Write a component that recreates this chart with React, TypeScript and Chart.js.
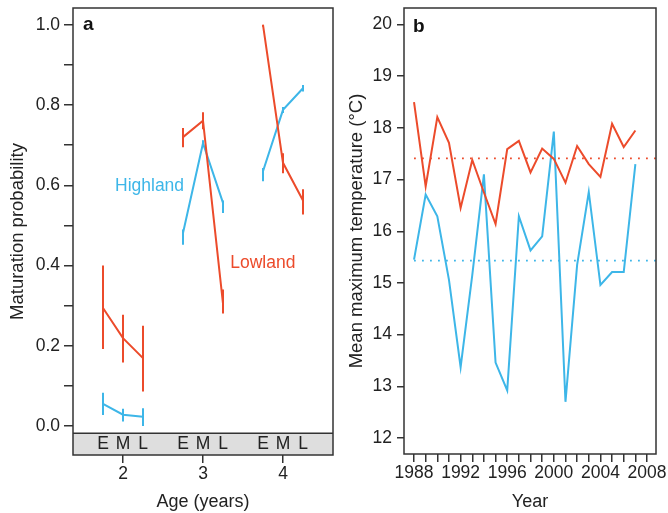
import React, { useEffect, useRef } from 'react';
import { Chart, registerables } from 'chart.js';
Chart.register(...registerables);

// ---------- Panel a data ----------
const ages = [2, 3, 4];
const groupLabels = ['E', 'M', 'L'];
const groupOffsets = [-0.25, 0, 0.25];

const lowlandMean = [[0.294, 0.219, 0.169], [0.72, 0.761, 0.305], [1.0, 0.656, 0.562]];
const lowlandLow = [[0.192, 0.158, 0.086], [0.695, 0.74, 0.28], [0.995, 0.63, 0.527]];
const lowlandHigh = [[0.4, 0.277, 0.25], [0.743, 0.782, 0.34], [1.0, 0.68, 0.59]];

const highlandMean = [[0.055, 0.028, 0.023], [0.481, 0.705, 0.556], [0.635, 0.788, 0.842]];
const highlandLow = [[0.0275, 0.011, 0.0], [0.452, 0.697, 0.531], [0.61, 0.78, 0.834]];
const highlandHigh = [[0.083, 0.043, 0.044], [0.49, 0.712, 0.562], [0.643, 0.795, 0.85]];

const probTicks = [0, 0.1, 0.2, 0.3, 0.4, 0.5, 0.6, 0.7, 0.8, 0.9, 1.0];
const probTickLabels = ['0.0', '', '0.2', '', '0.4', '', '0.6', '', '0.8', '', '1.0'];

// ---------- Panel b data ----------
const years = [1988, 1989, 1990, 1991, 1992, 1993, 1994, 1995, 1996, 1997, 1998, 1999, 2000, 2001, 2002, 2003, 2004, 2005, 2006, 2007];
const lowlandTemp = [18.5, 16.87, 18.21, 17.71, 16.45, 17.38, 16.75, 16.14, 17.59, 17.75, 17.14, 17.6, 17.4, 16.94, 17.65, 17.3, 17.05, 18.08, 17.63, 17.95];
const highlandTemp = [15.45, 16.71, 16.29, 15.06, 13.37, 15.15, 17.1, 13.46, 12.92, 16.29, 15.63, 15.9, 17.93, 12.7, 15.35, 16.76, 14.96, 15.21, 15.21, 17.3];
const lowlandMeanTemp = 17.41;
const highlandMeanTemp = 15.43;
const yearTicks = [1988, 1989, 1990, 1991, 1992, 1993, 1994, 1995, 1996, 1997, 1998, 1999, 2000, 2001, 2002, 2003, 2004, 2005, 2006, 2007, 2008];
const yearTickLabels = ['1988', '', '', '', '1992', '', '', '', '1996', '', '', '', '2000', '', '', '', '2004', '', '', '', '2008'];
const tempTicks = [12, 13, 14, 15, 16, 17, 18, 19, 20];

const RED = '#ec4b2b';
const BLUE = '#3db6e8';
const TEXT = '#222222';
const AXIS = '#333333';
const FONT = "'Liberation Sans', Arial, Helvetica, sans-serif";

Chart.defaults.font.family = FONT;
Chart.defaults.color = TEXT;

function groupedPoints(mean: number[][]) {
  const pts: { x: number; y: number | null }[] = [];
  ages.forEach((a, i) => {
    groupOffsets.forEach((o, j) => pts.push({ x: a + o, y: mean[i][j] }));
    pts.push({ x: a + 0.5, y: null });
  });
  return pts;
}

const framePlugin = {
  id: 'frame',
  afterDraw(chart: any) {
    const { ctx, chartArea: c } = chart;
    ctx.save();
    ctx.strokeStyle = AXIS;
    ctx.lineWidth = 1.5;
    ctx.strokeRect(c.left, c.top, c.right - c.left, c.bottom - c.top);
    ctx.restore();
  },
};

function letterPlugin(letter: string, dx: number, dy: number) {
  return {
    id: 'letter' + letter,
    afterDraw(chart: any) {
      const { ctx, chartArea: c } = chart;
      ctx.save();
      ctx.fillStyle = '#111';
      ctx.font = `bold 19px ${FONT}`;
      ctx.textAlign = 'left';
      ctx.textBaseline = 'middle';
      ctx.fillText(letter, c.left + dx, c.top + dy);
      ctx.restore();
    },
  };
}

const bandPlugin = {
  id: 'band',
  beforeDatasetsDraw(chart: any) {
    const { ctx, chartArea: c, scales } = chart;
    const yTop = scales.y.getPixelForValue(-0.018);
    ctx.save();
    ctx.fillStyle = '#dedede';
    ctx.fillRect(c.left, yTop, c.right - c.left, c.bottom - yTop);
    ctx.strokeStyle = AXIS;
    ctx.lineWidth = 1.5;
    ctx.beginPath();
    ctx.moveTo(c.left, yTop);
    ctx.lineTo(c.right, yTop);
    ctx.stroke();
    ctx.fillStyle = TEXT;
    ctx.font = `17.5px ${FONT}`;
    ctx.textAlign = 'center';
    ctx.textBaseline = 'middle';
    const yMid = (yTop + c.bottom) / 2 + 0.5;
    ages.forEach((a) => {
      groupOffsets.forEach((o, j) => {
        ctx.fillText(groupLabels[j], scales.x.getPixelForValue(a + o), yMid);
      });
    });
    ctx.restore();
  },
};

const errorPlugin = {
  id: 'errors',
  afterDatasetsDraw(chart: any) {
    const { ctx, scales } = chart;
    ctx.save();
    ctx.lineWidth = 2;
    const series: [number[][], number[][], string][] = [
      [highlandLow, highlandHigh, BLUE],
      [lowlandLow, lowlandHigh, RED],
    ];
    series.forEach(([lo, hi, col]) => {
      ctx.strokeStyle = col;
      ages.forEach((a, i) => {
        groupOffsets.forEach((o, j) => {
          const px = scales.x.getPixelForValue(a + o);
          ctx.beginPath();
          ctx.moveTo(px, scales.y.getPixelForValue(lo[i][j]));
          ctx.lineTo(px, scales.y.getPixelForValue(hi[i][j]));
          ctx.stroke();
        });
      });
    });
    // series labels
    ctx.font = `17.5px ${FONT}`;
    ctx.textAlign = 'left';
    ctx.textBaseline = 'middle';
    ctx.fillStyle = BLUE;
    ctx.fillText('Highland', scales.x.getPixelForValue(1.9), scales.y.getPixelForValue(0.5975));
    ctx.fillStyle = RED;
    ctx.fillText('Lowland', scales.x.getPixelForValue(3.34), scales.y.getPixelForValue(0.405));
    ctx.restore();
  },
};

function tickGrid(len: number) {
  return { display: true, drawOnChartArea: false, drawTicks: true, tickLength: len, color: AXIS, lineWidth: 1.5 };
}

function PanelA() {
  const ref = useRef<HTMLCanvasElement>(null);
  useEffect(() => {
    const chart = new Chart(ref.current!, {
      type: 'line',
      data: {
        datasets: [
          { data: groupedPoints(lowlandMean), borderColor: RED, borderWidth: 2, pointRadius: 0, spanGaps: false, order: 1 },
          { data: groupedPoints(highlandMean), borderColor: BLUE, borderWidth: 2, pointRadius: 0, spanGaps: false, order: 2 },
        ],
      },
      options: {
        animation: false,
        responsive: false,
        devicePixelRatio: 1,
        layout: { padding: { left: 0, top: 8, right: 7, bottom: 0 } },
        plugins: { legend: { display: false }, tooltip: { enabled: false } },
        scales: {
          x: {
            type: 'linear',
            min: 1.375,
            max: 4.625,
            afterBuildTicks: (s: any) => { s.ticks = ages.map((v) => ({ value: v })); },
            afterFit: (s: any) => { s.height = 58; s.paddingLeft = 0; s.paddingRight = 0; },
            ticks: { autoSkip: false, maxRotation: 0, padding: 1, color: TEXT, font: { size: 17.5 }, callback: (v: any) => String(v) },
            grid: tickGrid(8),
            border: { display: false },
            title: { display: true, text: 'Age (years)', color: TEXT, font: { size: 18 }, padding: { top: 0, bottom: 0 } },
          },
          y: {
            type: 'linear',
            min: -0.0725,
            max: 1.042,
            afterBuildTicks: (s: any) => { s.ticks = probTicks.map((v) => ({ value: v })); },
            afterFit: (s: any) => { s.width = 73; s.paddingTop = 0; s.paddingBottom = 0; },
            ticks: { autoSkip: false, padding: 4, color: TEXT, font: { size: 17.5 }, callback: (_v: any, i: number) => probTickLabels[i] },
            grid: tickGrid(9),
            border: { display: false },
            title: { display: true, text: 'Maturation probability', color: TEXT, font: { size: 18.5 }, padding: { top: 7, bottom: 0 } },
          },
        },
      },
      plugins: [bandPlugin, errorPlugin, framePlugin, letterPlugin('a', 10, 17)],
    } as any);
    return () => chart.destroy();
  }, []);
  return <canvas ref={ref} width={340} height={513} style={{ position: 'absolute', left: 0, top: 0 }} />;
}

function PanelB() {
  const ref = useRef<HTMLCanvasElement>(null);
  useEffect(() => {
    const xMax = 2008.77;
    const chart = new Chart(ref.current!, {
      type: 'line',
      data: {
        datasets: [
          { data: years.map((yr, i) => ({ x: yr, y: lowlandTemp[i] })), borderColor: RED, borderWidth: 2, pointRadius: 0, order: 1 },
          { data: years.map((yr, i) => ({ x: yr, y: highlandTemp[i] })), borderColor: BLUE, borderWidth: 2, pointRadius: 0, order: 2 },
          { data: [{ x: years[0], y: lowlandMeanTemp }, { x: xMax, y: lowlandMeanTemp }], borderColor: RED, borderWidth: 1.8, borderDash: [1.8, 6.2], pointRadius: 0, order: 3 },
          { data: [{ x: years[0], y: highlandMeanTemp }, { x: xMax, y: highlandMeanTemp }], borderColor: BLUE, borderWidth: 1.8, borderDash: [1.8, 6.2], pointRadius: 0, order: 3 },
        ],
      },
      options: {
        animation: false,
        responsive: false,
        devicePixelRatio: 1,
        layout: { padding: { left: 0, top: 8, right: 12, bottom: 0 } },
        plugins: { legend: { display: false }, tooltip: { enabled: false } },
        scales: {
          x: {
            type: 'linear',
            min: 1987.14,
            max: xMax,
            afterBuildTicks: (s: any) => { s.ticks = yearTicks.map((v) => ({ value: v })); },
            afterFit: (s: any) => { s.height = 59; s.paddingLeft = 0; s.paddingRight = 0; },
            ticks: { autoSkip: false, maxRotation: 0, padding: 1, color: TEXT, font: { size: 17.5 }, callback: (_v: any, i: number) => yearTickLabels[i] },
            grid: tickGrid(8),
            border: { display: false },
            title: { display: true, text: 'Year', color: TEXT, font: { size: 18 }, padding: { top: 0, bottom: 0 } },
          },
          y: {
            type: 'linear',
            min: 11.69,
            max: 20.32,
            afterBuildTicks: (s: any) => { s.ticks = tempTicks.map((v) => ({ value: v })); },
            afterFit: (s: any) => { s.width = 64; s.paddingTop = 0; s.paddingBottom = 0; },
            ticks: { autoSkip: false, padding: 5, color: TEXT, font: { size: 17.5 }, callback: (v: any) => String(v) },
            grid: tickGrid(7),
            border: { display: false },
            title: { display: true, text: 'Mean maximum temperature (°C)', color: TEXT, font: { size: 18.5 }, padding: { top: 6, bottom: 0 } },
          },
        },
      },
      plugins: [framePlugin, letterPlugin('b', 9, 19)],
    } as any);
    return () => chart.destroy();
  }, []);
  return <canvas ref={ref} width={328} height={513} style={{ position: 'absolute', left: 340, top: 0 }} />;
}

export default function App() {
  return (
    <div style={{ position: 'absolute', left: 0, top: 0, width: 668, height: 513, background: '#fff' }}>
      <PanelA />
      <PanelB />
    </div>
  );
}
